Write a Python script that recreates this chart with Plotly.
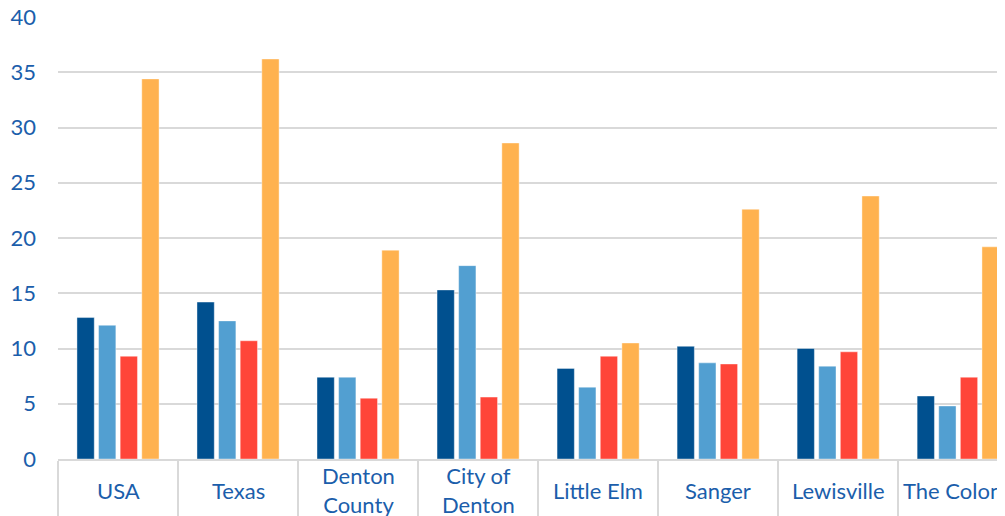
import plotly.graph_objects as go

categories = ["USA", "Texas", "Denton<br>County", "City of<br>Denton", "Little Elm", "Sanger", "Lewisville", "The Colony"]
series_a = [12.8, 14.2, 7.4, 15.3, 8.2, 10.2, 10.0, 5.7]
series_b = [12.1, 12.5, 7.4, 17.5, 6.5, 8.7, 8.4, 4.8]
series_c = [9.3, 10.7, 5.5, 5.6, 9.3, 8.6, 9.7, 7.4]
series_d = [34.4, 36.2, 18.9, 28.6, 10.5, 22.6, 23.8, 19.2]
y_ticks = [0, 5, 10, 15, 20, 25, 30, 35, 40]

colors = ["#00508F", "#529FD1", "#FF4539", "#FFB24F"]
names = ["Series 1", "Series 2", "Series 3", "Series 4"]

fig = go.Figure()
for vals, col, nm in zip([series_a, series_b, series_c, series_d], colors, names):
    fig.add_trace(go.Bar(
        x=categories, y=vals, name=nm,
        marker=dict(color=col, line=dict(color="rgba(255,255,255,0.5)", width=0.8)),
    ))

tick_font = dict(family="Lato, Open Sans, sans-serif", size=22, color="#1B5EAB")

# category labels, vertically centred in their boxes like the reference
for cat in categories:
    fig.add_annotation(
        x=cat, xref="x", y=-0.071, yref="paper",
        text=cat, showarrow=False, xanchor="center", yanchor="middle",
        font=tick_font, align="center",
    )

fig.update_layout(
    width=997, height=508,
    margin=dict(l=50, r=0, t=9, b=57),
    paper_bgcolor="white", plot_bgcolor="white",
    barmode="group", bargap=0.28, bargroupgap=0.2,
    showlegend=False,
    font=tick_font,
)
fig.update_xaxes(
    type="category", range=[-0.5, 7.39], automargin=False,
    tickson="boundaries", ticks="outside", ticklen=60, tickwidth=2, tickcolor="#D9D9D9",
    showline=True, linecolor="#D9D9D9", linewidth=2,
    showgrid=False, showticklabels=False,
)
fig.update_yaxes(
    range=[0, 40], tickvals=y_ticks, showgrid=True, gridcolor="#D9D9D9", gridwidth=2,
    zeroline=False, showline=False, ticks="", ticklabelstandoff=21, automargin=False,
    ticklabeloverflow="allow", tickfont=tick_font,
)
fig.write_html("out.html")
